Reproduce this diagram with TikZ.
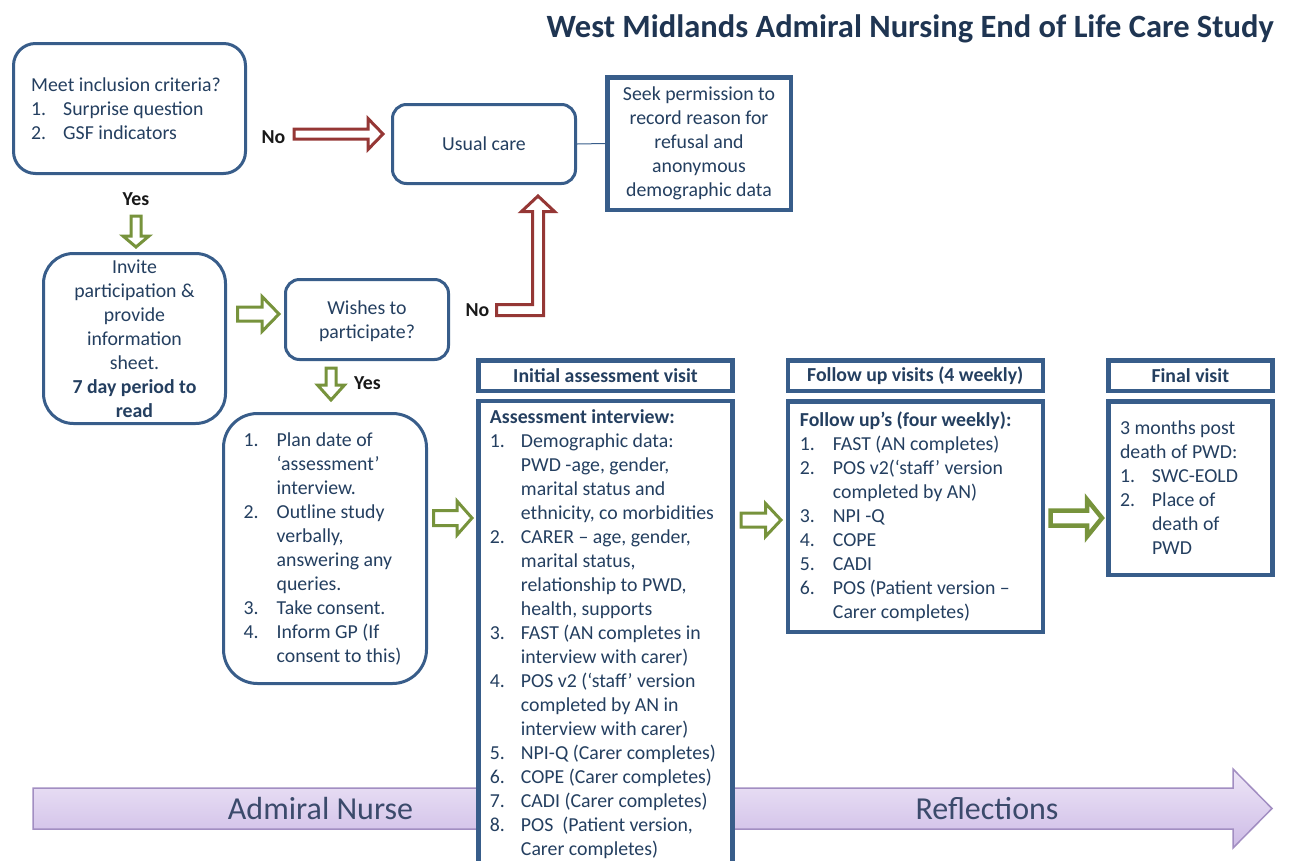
\documentclass[tikz,border=0pt]{standalone}
\usepackage{fontspec}
\setmainfont{Carlito}
\definecolor{boxblue}{HTML}{385D8A}
\definecolor{txtc}{HTML}{243F60}
\definecolor{titlec}{HTML}{1F3552}
\definecolor{redc}{HTML}{953735}
\definecolor{greenc}{HTML}{77933C}
\definecolor{ptop}{HTML}{EEE6F7}
\definecolor{pbot}{HTML}{CDBBE6}
\definecolor{pborder}{HTML}{A28EC2}
\definecolor{ptext}{HTML}{3B4A6B}
\newcommand\itm[2]{\makebox[#1][l]{#2}}
\begin{document}
\begin{tikzpicture}[x=1pt,y=-1pt,
  basefont/.style={font=\fontsize{19.8}{24}\selectfont},
  rbox/.style={draw=boxblue, line width=3pt, fill=white, inner sep=0pt, text=txtc, basefont, align=center},
  sbox/.style={draw=boxblue, line width=4.5pt, fill=white, inner sep=0pt, text=txtc, basefont, align=center},
  txt/.style={text=txtc, inner sep=0pt, basefont, align=left, anchor=west},
  lbl/.style={text=black!90, inner sep=0pt, font=\fontsize{19.8}{24}\selectfont\bfseries},
  redarrow/.style={draw=redc, line width=3pt, fill=white, line join=miter},
  greenarrow/.style={draw=greenc, line width=3pt, fill=white, line join=miter},
  bigtxt/.style={text=ptext, inner sep=0pt, font=\fontsize{32}{38}\selectfont, anchor=base}
]
\useasboundingbox (0,0) rectangle (1291,860);

% title
\node[text=titlec, inner sep=0pt, font=\fontsize{32.5}{38}\selectfont\bfseries, anchor=base east] (title) at (1274,37) {West Midlands Admiral Nursing End of Life Care Study};

% big purple arrow
\path[draw=pborder, line width=1.5pt, top color=ptop, bottom color=pbot, line join=miter]
  (33,788) -- (1233,788) -- (1233,769) -- (1272,808.5) -- (1233,848) -- (1233,829) -- (33,829) -- cycle;
\node[bigtxt] (an) at (320.5,819) {Admiral Nurse};
\node[bigtxt] (refl) at (987,819) {Reflections};

% boxes
\node[rbox, rounded corners=22pt, minimum width=232pt, minimum height=130pt] (meet) at (129.5,108.5) {};
\node[txt] (meet-t) at ([xshift=19pt]meet.west) {Meet inclusion criteria?\\
\itm{32pt}{1.}Surprise question\\
\itm{32pt}{2.}GSF indicators};

\node[rbox, rounded corners=14pt, minimum width=183pt, minimum height=79pt] (usual) at (484,144) {Usual care};

\node[sbox, minimum width=183.5pt, minimum height=132.5pt] (seek) at (699,143.5) {Seek permission to\\record reason for\\refusal and\\anonymous\\demographic data};

\draw[boxblue, line width=1pt] (usual.east) -- (seek.west);

\node[rbox, rounded corners=30pt, minimum width=182pt, minimum height=170pt] (invite) at (134.5,338.5) {Invite\\participation \&\\provide\\information\\sheet.\\\textbf{7 day period to}\\\textbf{read}};

\node[rbox, rounded corners=14pt, minimum width=163pt, minimum height=80pt] (wish) at (367,319.5) {\rule{0pt}{17pt}Wishes to\\participate?};

\node[rbox, rounded corners=34pt, minimum width=203pt, minimum height=270pt] (plan) at (325,548.5) {};
\node[txt] (plan-t) at ([xshift=21.5pt]plan.west) {\itm{33pt}{1.}Plan date of\\
\hspace*{33pt}‘assessment’\\
\hspace*{33pt}interview.\\
\itm{33pt}{2.}Outline study\\
\hspace*{33pt}verbally,\\
\hspace*{33pt}answering any\\
\hspace*{33pt}queries.\\
\itm{33pt}{3.}Take consent.\\
\itm{33pt}{4.}Inform GP (If\\
\hspace*{33pt}consent to this)};

% headers
\node[sbox, minimum width=254pt, minimum height=30.5pt, font=\fontsize{19.8}{24}\selectfont\bfseries] (h1) at (605.5,375.5) {Initial assessment visit};
\node[sbox, minimum width=255pt, minimum height=30.5pt, font=\fontsize{19.8}{24}\selectfont\bfseries] (h2) at (915.25,375.5) {Follow up visits (4 weekly)};
\node[sbox, minimum width=164pt, minimum height=30.5pt, font=\fontsize{19.8}{24}\selectfont\bfseries] (h3) at (1190.3,375.5) {Final visit};

% bodies
\node[sbox, minimum width=254pt, minimum height=466.75pt] (ass) at (605.5,634.6) {};
\node[txt] (ass-t) at ([xshift=13.5pt]ass.west) {\textbf{Assessment interview:}\\
\itm{31pt}{1.}Demographic data:\\
\hspace*{31pt}PWD -age, gender,\\
\hspace*{31pt}marital status and\\
\hspace*{31pt}ethnicity, co morbidities\\
\itm{31pt}{2.}CARER – age, gender,\\
\hspace*{31pt}marital status,\\
\hspace*{31pt}relationship to PWD,\\
\hspace*{31pt}health, supports\\
\itm{31pt}{3.}FAST (AN completes in\\
\hspace*{31pt}interview with carer)\\
\itm{31pt}{4.}POS v2 (‘staff’ version\\
\hspace*{31pt}completed by AN in\\
\hspace*{31pt}interview with carer)\\
\itm{31pt}{5.}NPI-Q (Carer completes)\\
\itm{31pt}{6.}COPE (Carer completes)\\
\itm{31pt}{7.}CADI (Carer completes)\\
\itm{31pt}{8.}POS\ \ (Patient version,\\
\hspace*{31pt}Carer completes)};

\node[sbox, minimum width=255pt, minimum height=230.5pt] (fol) at (915.25,516.5) {};
\node[txt] (fol-t) at ([xshift=14.25pt]fol.west) {\textbf{Follow up’s (four weekly):}\\
\itm{33pt}{1.}FAST (AN completes)\\
\itm{33pt}{2.}POS v2(‘staff’ version\\
\hspace*{33pt}completed by AN)\\
\itm{33pt}{3.}NPI -Q\\
\itm{33pt}{4.}COPE\\
\itm{33pt}{5.}CADI\\
\itm{33pt}{6.}POS (Patient version –\\
\hspace*{33pt}Carer completes)};

\node[sbox, minimum width=164pt, minimum height=173.5pt] (fin) at (1190.3,488) {};
\node[txt] (fin-t) at ([xshift=13.75pt]fin.west) {3 months post\\
death of PWD:\\
\itm{32pt}{1.}SWC-EOLD\\
\itm{32pt}{2.}Place of\\
\hspace*{32pt}death of\\
\hspace*{32pt}PWD};

% labels
\node[lbl] (no1) at (273.5,137) {No};
\node[lbl] (yes1) at (136,199) {Yes};
\node[lbl] (no2) at (477.5,310) {No};
\node[lbl] (yes2) at (367.5,383) {Yes};

% block arrows
% meet -> usual (No)
\draw[redarrow] (294,129) -- (368,129) -- (368,118.5) -- (383,134) -- (368,149.5) -- (368,139) -- (294,139) -- cycle;
% wish -> usual (No), L shaped
\draw[redarrow] (496.5,304.5) -- (532.5,304.5) -- (532.5,211.5) -- (521.5,211.5) -- (538,196) -- (554.5,211.5) -- (543.5,211.5) -- (543.5,315.5) -- (496.5,315.5) -- cycle;
% meet -> invite (Yes)
\draw[greenarrow] (131,216) -- (141,216) -- (141,236) -- (149,236) -- (136,247) -- (123,236) -- (131,236) -- cycle;
% invite -> wish
\draw[greenarrow] (237.5,307) -- (262,307) -- (262,296.5) -- (279,314) -- (262,331.5) -- (262,321) -- (237.5,321) -- cycle;
% wish -> plan (Yes)
\draw[greenarrow] (326,368) -- (336,368) -- (336,385) -- (344.5,385) -- (331,400) -- (317.5,385) -- (326,385) -- cycle;
% plan -> ass
\draw[greenarrow] (433.5,510.5) -- (457,510.5) -- (457,501) -- (472,518) -- (457,535) -- (457,525.5) -- (433.5,525.5) -- cycle;
% ass -> fol
\draw[greenarrow] (741,513) -- (765.5,513) -- (765.5,503.5) -- (781,520) -- (765.5,536.5) -- (765.5,527) -- (741,527) -- cycle;
% fol -> fin
\draw[greenarrow, line width=4.5pt] (1050.5,510.5) -- (1087,510.5) -- (1087,499.5) -- (1102,518) -- (1087,536.5) -- (1087,525.5) -- (1050.5,525.5) -- cycle;
\end{tikzpicture}
\end{document}
